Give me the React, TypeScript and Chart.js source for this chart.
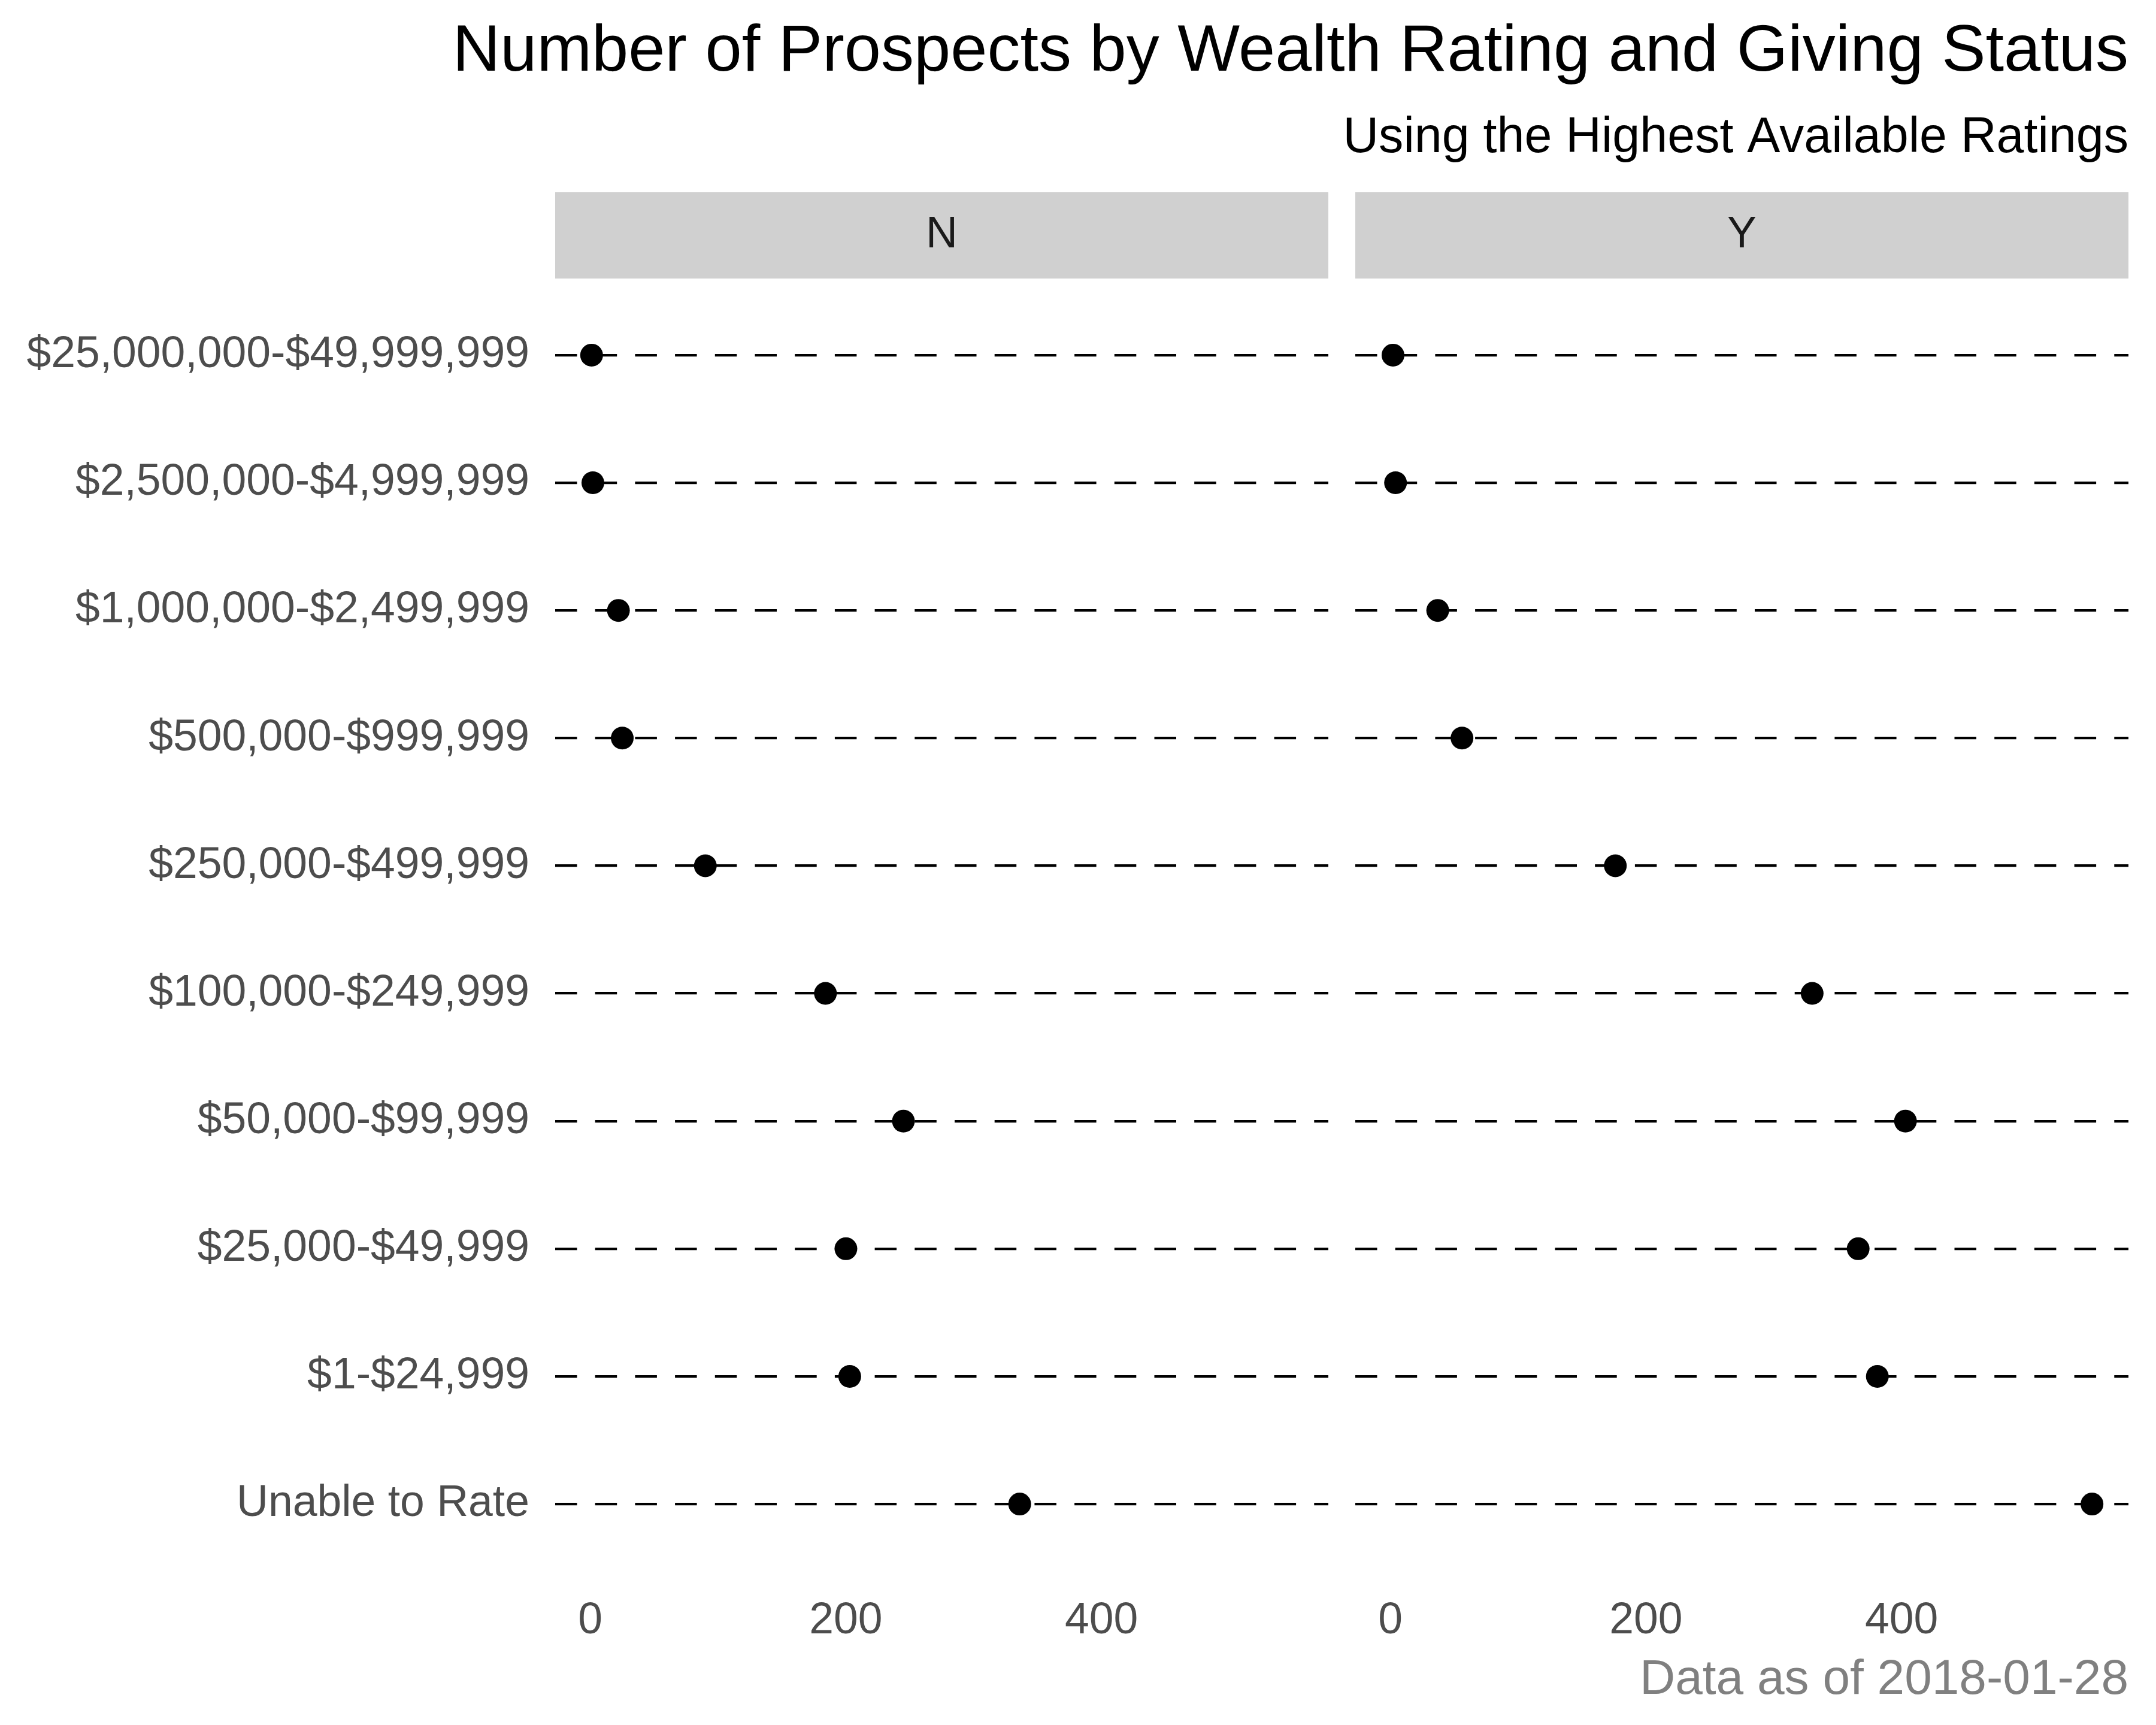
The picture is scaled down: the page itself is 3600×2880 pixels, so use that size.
import React, { useEffect, useRef } from "react";
import { Chart, registerables } from "chart.js";

Chart.register(...registerables);

// ---------- data ----------
const categories = [
  "$25,000,000-$49,999,999",
  "$2,500,000-$4,999,999",
  "$1,000,000-$2,499,999",
  "$500,000-$999,999",
  "$250,000-$499,999",
  "$100,000-$249,999",
  "$50,000-$99,999",
  "$25,000-$49,999",
  "$1-$24,999",
  "Unable to Rate",
];
const noCounts = [1, 2, 22, 25, 90, 184, 245, 200, 203, 336];
const yesCounts = [2, 4, 37, 56, 176, 330, 403, 366, 381, 549];
const xTickValues = [0, 200, 400];
const panelLabels = ["N", "Y"];
const titleText = "Number of Prospects by Wealth Rating and Giving Status";
const subtitleText = "Using the Highest Available Ratings";
const captionText = "Data as of 2018-01-28";

// ---------- layout / style ----------
const FONT = "'Liberation Sans', Arial, Helvetica, sans-serif";
const W = 3600;
const H = 2880;
const PANEL_TOP = 465;
const PANEL_BOTTOM = 2639;
const AXIS_H = H - PANEL_BOTTOM;
const LEFT_PANEL_L = 927;
const LEFT_PANEL_R = 2218;
const RIGHT_PANEL_L = 2263;
const RIGHT_PANEL_R = 3554;
const STRIP_H = 144;
const X_MIN = -27.5;
const X_MAX = 577.5;
const Y_MIN = -0.6;
const Y_MAX = categories.length - 1 + 0.6;

Chart.defaults.font.family = FONT;

const stripPlugin = {
  id: "strip",
  afterDraw(chart: any, _args: any, opts: any) {
    const { ctx, chartArea } = chart;
    ctx.save();
    ctx.fillStyle = opts.background;
    ctx.fillRect(
      chartArea.left,
      chartArea.top - opts.height,
      chartArea.right - chartArea.left,
      opts.height
    );
    ctx.fillStyle = opts.color;
    ctx.font = `normal ${opts.size}px ${FONT}`;
    ctx.textAlign = "center";
    ctx.textBaseline = "middle";
    ctx.fillText(
      opts.text,
      (chartArea.left + chartArea.right) / 2,
      chartArea.top - opts.height / 2
    );
    ctx.restore();
  },
};

function buildConfig(side: "left" | "right"): any {
  const values = side === "left" ? noCounts : yesCounts;
  const isLeft = side === "left";
  const dash = [36.5, 30.2];
  return {
    type: "scatter",
    data: {
      datasets: [
        {
          data: values.map((v, i) => ({ x: v, y: i })),
          pointRadius: 19,
          pointHoverRadius: 19,
          pointBackgroundColor: "#000000",
          pointBorderWidth: 0,
          borderColor: "#000000",
          backgroundColor: "#000000",
        },
      ],
    },
    options: {
      responsive: false,
      animation: false,
      devicePixelRatio: 1,
      events: [],
      layout: {
        padding: isLeft
          ? { left: 0, right: W - LEFT_PANEL_R, top: PANEL_TOP, bottom: 0 }
          : { left: 0, right: W - RIGHT_PANEL_R, top: 0, bottom: 0 },
      },
      plugins: {
        legend: { display: false },
        tooltip: { enabled: false },
        title: isLeft
          ? { display: false }
          : {
              display: true,
              text: titleText,
              align: "end",
              color: "#000000",
              font: { size: 110, weight: "normal", family: FONT, lineHeight: 1.2 },
              padding: { top: 22, bottom: 0 },
            },
        subtitle: isLeft
          ? { display: false }
          : {
              display: true,
              text: subtitleText,
              align: "end",
              color: "#000000",
              font: { size: 82.6, weight: "normal", family: FONT, lineHeight: 1.2 },
              padding: { top: 27.5, bottom: PANEL_TOP - (22 + 132 + 27.5 + 82.6 * 1.2) },
            },
        strip: {
          text: isLeft ? panelLabels[0] : panelLabels[1],
          background: "#d0d0d0",
          color: "#1a1a1a",
          size: 73.3,
          height: STRIP_H,
        },
      },
      scales: {
        x: {
          type: "linear",
          min: X_MIN,
          max: X_MAX,
          afterBuildTicks: (scale: any) => {
            scale.ticks = xTickValues.map((v) => ({ value: v }));
          },
          afterFit: (scale: any) => {
            scale.height = AXIS_H;
          },
          grid: { display: false, drawTicks: false },
          border: { display: false },
          ticks: {
            padding: 24,
            color: "#4d4d4d",
            font: { size: 73.3, family: FONT },
            maxRotation: 0,
            autoSkip: false,
          },
          title: isLeft
            ? { display: false }
            : {
                display: true,
                text: captionText,
                align: "end",
                color: "#808080",
                font: { size: 82, family: FONT, lineHeight: 1.2 },
                padding: { top: 0, bottom: 25 },
              },
        },
        y: {
          type: "linear",
          min: Y_MIN,
          max: Y_MAX,
          reverse: true,
          afterBuildTicks: (scale: any) => {
            scale.ticks = categories.map((_, i) => ({ value: i }));
          },
          afterFit: (scale: any) => {
            scale.width = isLeft ? LEFT_PANEL_L : RIGHT_PANEL_L;
          },
          grid: {
            display: true,
            color: "#000000",
            lineWidth: 4.2,
            drawTicks: false,
            borderDash: dash,
          },
          border: { display: false, dash: dash },
          ticks: {
            display: isLeft,
            padding: 43,
            color: "#4d4d4d",
            font: { size: 73.3, family: FONT },
            autoSkip: false,
            callback: (value: any) => categories[Math.round(value)] ?? "",
          },
        },
      },
    },
    plugins: [stripPlugin],
  };
}

export default function App() {
  const leftRef = useRef<HTMLCanvasElement | null>(null);
  const rightRef = useRef<HTMLCanvasElement | null>(null);

  useEffect(() => {
    const charts: Chart[] = [];
    if (leftRef.current) charts.push(new Chart(leftRef.current, buildConfig("left")));
    if (rightRef.current) charts.push(new Chart(rightRef.current, buildConfig("right")));
    return () => {
      charts.forEach((c) => c.destroy());
    };
  }, []);

  const canvasStyle: React.CSSProperties = {
    position: "absolute",
    left: 0,
    top: 0,
    width: W,
    height: H,
  };

  return (
    <div
      style={{
        position: "fixed",
        left: 0,
        top: 0,
        width: W,
        height: H,
        background: "#ffffff",
        overflow: "hidden",
      }}
    >
      <canvas ref={leftRef} width={W} height={H} style={canvasStyle} />
      <canvas ref={rightRef} width={W} height={H} style={canvasStyle} />
    </div>
  );
}
